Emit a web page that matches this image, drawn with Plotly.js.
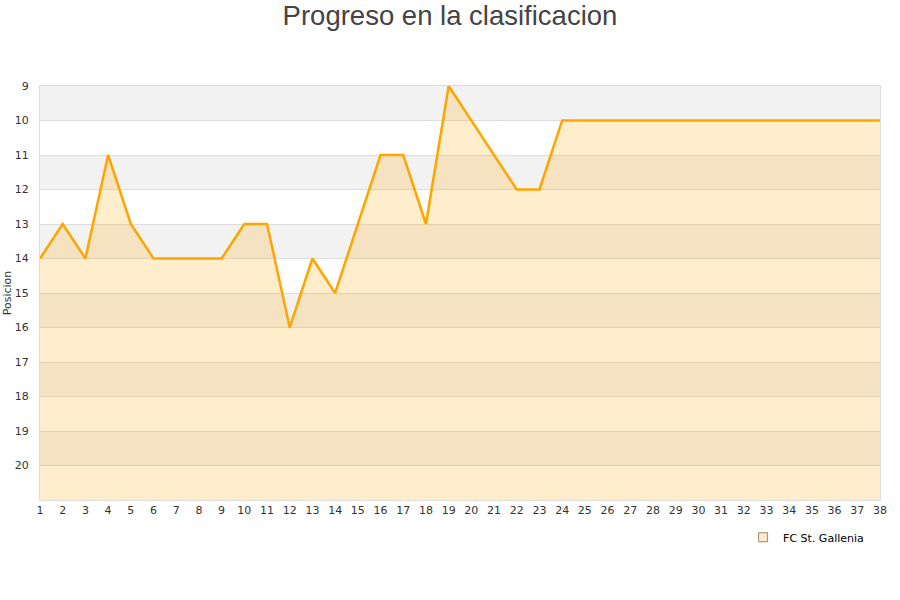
<!DOCTYPE html>
<html>
<head>
<meta charset="utf-8">
<script src="https://cdn.plot.ly/plotly-3.0.1.min.js"></script>
<style>
  html, body { margin: 0; padding: 0; background: #fff; }
  #chart { width: 900px; height: 600px; }
</style>
</head>
<body>
<div id="chart"></div>
<script>
// Matchdays (jornadas) and league position after each one
const jornadas = [1,2,3,4,5,6,7,8,9,10,11,12,13,14,15,16,17,18,19,20,21,22,23,24,25,26,27,28,29,30,31,32,33,34,35,36,37,38];
const posiciones = [14,13,14,11,13,14,14,14,14,13,13,16,14,15,13,11,11,13,9,10,11,12,12,10,10,10,10,10,10,10,10,10,10,10,10,10,10,10];
const equipo = 'FC St. Gallenia';
const yTicks = [9,10,11,12,13,14,15,16,17,18,19,20];
const ultimaPosicion = 21;

// Alternating horizontal bands behind the plot
const bandas = [];
for (let p = 9; p < ultimaPosicion; p += 2) {
  bandas.push({
    type: 'rect', xref: 'paper', yref: 'y', x0: 0, x1: 1, y0: p, y1: p + 1,
    fillcolor: '#f2f2f2', line: { width: 0 }, layer: 'below'
  });
}

const base = {
  x: jornadas,
  y: jornadas.map(() => ultimaPosicion),
  mode: 'lines',
  line: { width: 0 },
  hoverinfo: 'skip',
  showlegend: false
};

const serie = {
  x: jornadas,
  y: posiciones,
  mode: 'lines',
  name: equipo,
  fill: 'tonexty',
  fillcolor: 'rgba(255,165,0,0.2)',
  line: { color: '#ffa500', width: 2.5 },
  showlegend: false
};

const leyenda = {
  x: [null], y: [null],
  mode: 'markers',
  name: equipo,
  marker: { symbol: 'square', size: 9, color: '#ffebc8', line: { color: '#9a8a70', width: 1 } }
};

const layout = {
  width: 900, height: 600,
  margin: { l: 40, r: 20, t: 86, b: 100 },
  paper_bgcolor: '#ffffff',
  plot_bgcolor: '#ffffff',
  font: { family: 'DejaVu Sans, sans-serif', color: '#333', size: 11 },
  title: {
    text: 'Progreso en la clasificacion',
    font: { family: 'Liberation Sans, Arial, sans-serif', size: 27.5, color: '#444' },
    x: 0.5, xanchor: 'center', y: 0.99, yanchor: 'top'
  },
  xaxis: {
    range: [1, 38],
    tickmode: 'array', tickvals: jornadas, ticktext: jornadas.map(String),
    showgrid: false, zeroline: false,
    showline: true, linecolor: '#dddddd', linewidth: 1, mirror: true,
    ticks: '', ticklen: 0,
    tickfont: { size: 11, color: '#333' }
  },
  yaxis: {
    range: [ultimaPosicion, 9],
    tickmode: 'array', tickvals: yTicks, ticktext: yTicks.map(String),
    showgrid: true, gridcolor: '#dddddd', gridwidth: 1,
    zeroline: false,
    showline: true, linecolor: '#dddddd', linewidth: 1, mirror: true,
    ticks: '', ticklabelstandoff: 8,
    tickfont: { size: 11, color: '#333' },
    title: { text: 'Posicion', font: { size: 11, color: '#333' }, standoff: 0 }
  },
  shapes: bandas,
  showlegend: true,
  legend: {
    x: 0.837, xanchor: 'left', y: -0.09, yanchor: 'middle',
    bgcolor: 'rgba(0,0,0,0)', font: { size: 11, color: '#000' },
    itemwidth: 30
  }
};

Plotly.newPlot('chart', [base, serie, leyenda], layout, { displayModeBar: false, staticPlot: true });
</script>
</body>
</html>
